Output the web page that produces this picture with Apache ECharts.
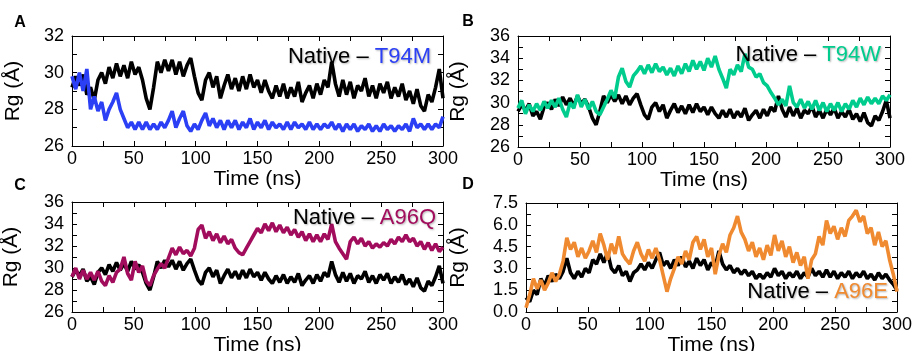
<!DOCTYPE html>
<html>
<head>
<meta charset="utf-8">
<script src="https://cdn.jsdelivr.net/npm/echarts@6/dist/echarts.min.js"></script>
<style>
html, body { margin: 0; padding: 0; background: #fff; }
#chart { width: 915px; height: 351px; }
</style>
</head>
<body>
<div id="chart"></div>
<script>
// one sample every 3 ns, 0..300 ns
var stepNs = 3;

// native protein, Rg (Å) - same trajectory drawn in panels A, B, C
var nativeRg = [29.2, 29.8, 29.3, 29.9, 28.8, 29.2, 28.5, 29.6, 30.0, 29.4,
    30.3, 29.7, 30.5, 29.8, 30.4, 29.7, 30.6, 29.9, 30.3, 29.6,
    28.6, 28.0, 29.2, 30.6, 30.0, 30.7, 30.1, 30.7, 29.9, 30.6,
    29.8, 30.4, 30.8, 29.8, 28.9, 28.5, 29.6, 30.0, 29.2, 29.8,
    28.6, 29.3, 29.9, 29.1, 29.7, 29.0, 29.8, 29.1, 29.9, 29.2,
    29.6, 28.9, 29.6, 29.0, 28.6, 29.3, 28.7, 29.4, 28.6, 29.2,
    28.7, 29.5, 28.4, 28.9, 29.3, 28.6, 29.4, 28.8, 29.6, 29.2,
    30.6, 29.4, 28.7, 29.6, 28.8, 29.5, 28.6, 29.3, 29.0, 29.7,
    28.7, 29.3, 28.6, 29.4, 28.9, 29.5, 28.6, 29.2, 28.7, 29.4,
    28.5, 29.0, 28.3, 29.1, 28.2, 27.9, 28.8, 28.4, 29.2, 30.2, 28.6];

var t94mRg = [29.8, 29.1, 30.0, 29.0, 30.2, 28.0, 28.7, 27.9, 28.4, 27.4,
    28.0, 28.4, 28.9, 28.0, 27.5, 27.0, 27.3, 26.9, 27.3, 26.9,
    27.3, 26.9, 27.2, 26.9, 27.3, 27.0, 27.4, 27.9, 27.0, 27.5,
    27.9, 27.1, 26.8, 27.2, 26.9, 27.4, 27.8, 27.1, 27.5, 27.0,
    27.4, 26.9, 27.4, 27.0, 27.4, 26.9, 27.3, 27.0, 27.5, 26.9,
    27.3, 27.0, 27.4, 26.9, 27.3, 27.0, 27.2, 26.9, 27.3, 26.9,
    27.3, 27.0, 27.2, 26.9, 27.3, 26.9, 27.2, 26.9, 27.2, 27.0,
    27.3, 26.9, 27.2, 26.8, 27.2, 26.9, 27.2, 26.8, 27.1, 26.9,
    27.2, 26.8, 27.1, 26.8, 27.2, 26.9, 27.1, 26.8, 27.1, 26.9,
    27.2, 26.8, 27.5, 27.0, 27.2, 26.9, 27.2, 26.9, 27.2, 27.0, 27.6];

var t94wRg = [29.5, 30.2, 29.0, 29.8, 29.2, 29.9, 29.3, 30.1, 29.5, 30.2,
    29.6, 30.4, 29.4, 28.7, 30.0, 29.5, 30.7, 29.6, 30.3, 29.4,
    30.1, 29.2, 28.9, 29.6, 30.3, 31.1, 30.4, 32.3, 33.1, 31.9,
    31.4, 32.4, 32.8, 33.3, 32.6, 33.4, 32.7, 33.5, 32.8, 33.2,
    32.5, 33.1, 32.4, 33.3, 32.6, 33.5, 32.8, 33.8, 33.0, 33.7,
    32.9, 34.0, 33.2, 34.2, 33.0, 32.2, 31.3, 33.0, 32.5, 33.4,
    32.8, 34.4, 33.2, 33.0, 32.3, 32.6, 31.8, 31.5, 30.9, 30.4,
    29.8, 30.3, 29.7, 31.5, 30.0, 29.6, 30.3, 29.5, 30.1, 29.4,
    30.2, 29.3, 30.0, 29.2, 29.9, 29.3, 30.0, 29.2, 29.9, 29.4,
    30.2, 29.6, 30.4, 29.8, 30.5, 29.9, 30.4, 29.9, 30.6, 30.2, 30.7];

var a96qRg = [29.2, 30.0, 29.0, 29.8, 29.0, 29.6, 28.9, 29.7, 28.8, 28.4,
    29.3, 28.7, 29.6, 29.9, 31.0, 29.5, 28.9, 30.6, 29.6, 30.2,
    28.8, 28.4, 29.3, 29.9, 30.4, 30.0, 30.9, 31.8, 31.2, 31.9,
    31.3, 31.6, 31.1, 31.8, 33.5, 33.9, 32.7, 33.3, 32.5, 33.1,
    32.3, 32.9, 32.2, 32.6, 31.8, 31.4, 31.2, 31.8, 32.4, 33.0,
    33.6, 33.2, 34.0, 33.4, 34.1, 33.3, 33.9, 33.2, 33.7, 33.0,
    33.5, 32.8, 33.3, 32.5, 33.1, 32.4, 33.0, 32.4, 33.1, 32.6,
    34.0, 32.4, 31.8, 31.3, 30.8, 32.4, 32.8, 32.2, 32.7, 32.0,
    32.4, 31.8, 32.2, 31.9, 32.3, 32.0, 32.6, 32.2, 32.8, 32.4,
    33.0, 32.4, 32.7, 32.0, 32.4, 31.7, 32.3, 31.6, 32.2, 31.5, 31.9];

// panel D
var nativeD = [1.0, 0.7, 1.5, 1.2, 2.3, 1.8, 2.5, 2.1, 2.6, 2.3,
    2.8, 3.7, 2.7, 2.3, 2.8, 2.4, 3.0, 2.7, 3.6, 3.3,
    4.0, 3.4, 4.1, 3.0, 2.7, 3.2, 2.5, 2.8, 2.1, 2.7,
    2.9, 3.3, 2.9, 3.4, 3.0, 3.6, 4.1, 3.2, 3.5, 3.0,
    3.6, 3.2, 3.8, 3.1, 3.5, 3.0, 3.7, 3.2, 3.6, 2.9,
    3.4, 3.1, 4.2, 3.3, 2.9, 3.2, 2.7, 3.0, 2.6, 2.9,
    2.5, 2.8, 2.3, 2.6, 2.3, 2.7, 2.4, 3.0, 2.5, 2.8,
    2.3, 2.7, 2.4, 2.8, 2.3, 2.7, 2.4, 3.0, 2.5, 2.8,
    2.4, 2.9, 2.4, 2.8, 2.3, 2.7, 2.4, 2.8, 2.3, 2.7,
    2.4, 2.8, 2.3, 2.6, 2.2, 2.7, 2.3, 2.6, 2.2, 1.9, 1.5];

var a96eD = [0.3, 1.2, 2.3, 1.6, 2.2, 1.5, 2.0, 2.7, 2.1, 2.6,
    3.5, 5.1, 4.3, 4.8, 3.8, 4.4, 3.7, 4.2, 4.9, 4.1,
    5.4, 4.6, 3.6, 4.7, 4.0, 5.2, 4.0, 3.6, 3.3, 4.2,
    4.8, 4.0, 3.5, 4.3, 3.7, 4.4, 3.6, 2.5, 1.4, 2.3,
    3.0, 3.8, 3.3, 4.2, 3.6, 4.8, 5.2, 4.3, 5.0, 3.8,
    4.4, 2.6, 3.9, 4.7, 4.1, 5.3, 5.8, 6.6, 5.5, 5.0,
    4.2, 4.8, 3.8, 4.4, 3.6, 4.6, 3.9, 5.3, 4.2, 4.9,
    3.8, 4.5, 3.4, 4.1, 3.2, 3.8, 2.3, 3.6, 4.0, 5.2,
    4.6, 6.3, 5.4, 5.9, 5.0, 5.8, 5.2, 6.3, 6.6, 7.0,
    6.2, 6.6, 5.4, 5.8, 4.6, 5.5, 4.5, 4.9, 3.6, 2.6, 1.4];

var xTicks = [0, 300, 50];   // min, max, interval
var mutantNames = ['T94M', 'T94W', 'A96Q', 'A96E'];
var mutantColors = ['#2b3ff5', '#00cc8e', '#a20c5c', '#f08a30'];

var time = [];
for (var i = 0; i < nativeRg.length; i++) time.push(i * stepNs);

function pairs(values) {
    return values.map(function (v, i) { return [time[i], v]; });
}

var FONT = 'Liberation Sans, Arial, sans-serif';

var panels = [
    { letter: 'A', grid: { left: 72, top: 36, width: 371, height: 110 }, yMin: 26, yMax: 32, yStep: 2,
      base: nativeRg, mut: t94mRg, yGap: 48, xGap: 23, legend: [431, 57], letterPos: [20, 23] },
    { letter: 'B', grid: { left: 518, top: 36, width: 372, height: 111 }, yMin: 26, yMax: 36, yStep: 2,
      base: nativeRg, mut: t94wRg, yGap: 49, xGap: 23, legend: [881, 55], letterPos: [468, 22] },
    { letter: 'C', grid: { left: 72, top: 202, width: 371, height: 110 }, yMin: 26, yMax: 36, yStep: 2,
      base: nativeRg, mut: a96qRg, yGap: 50, xGap: 19, legend: [436, 218], letterPos: [20, 186] },
    { letter: 'D', grid: { left: 526, top: 203, width: 371, height: 109 }, yMin: 0, yMax: 7.5, yStep: 1.5,
      base: nativeD, mut: a96eD, yGap: 57, xGap: 19, legend: [888, 292], letterPos: [468, 185] }
];

function axisCommon(showLabel, min, max, interval) {
    return {
        type: 'value',
        min: min,
        max: max,
        interval: interval,
        axisLine: { show: true, onZero: false, lineStyle: { color: '#000', width: 1 } },
        axisTick: { show: true, inside: true, length: 5, lineStyle: { color: '#000' } },
        minorTick: { show: true, splitNumber: 2, length: 5, lineStyle: { color: '#000' } },
        splitLine: { show: false },
        axisLabel: { show: showLabel, color: '#000', fontSize: 18, fontFamily: FONT },
        nameTextStyle: { color: '#000', fontSize: 21, fontFamily: FONT }
    };
}

var grids = [], xAxes = [], yAxes = [], series = [], graphics = [];

panels.forEach(function (p, k) {
    grids.push(Object.assign({ outerBoundsMode: 'none', containLabel: false }, p.grid));

    var xb = axisCommon(true, xTicks[0], xTicks[1], xTicks[2]);
    xb.gridIndex = k; xb.position = 'bottom';
    xb.axisLabel.margin = 4;
    xb.name = 'Time (ns)'; xb.nameLocation = 'middle'; xb.nameGap = p.xGap;
    var xt = axisCommon(false, xTicks[0], xTicks[1], xTicks[2]);
    xt.gridIndex = k; xt.position = 'top';
    xAxes.push(xb, xt);

    var yl = axisCommon(true, p.yMin, p.yMax, p.yStep);
    yl.gridIndex = k; yl.position = 'left';
    yl.axisLabel.margin = 8;
    yl.axisLabel.formatter = p.yStep < 2 ? function (v) { return v.toFixed(1); } : '{value}';
    yl.name = 'Rg (Å)'; yl.nameLocation = 'middle'; yl.nameGap = p.yGap;
    var yr = axisCommon(false, p.yMin, p.yMax, p.yStep);
    yr.gridIndex = k; yr.position = 'right';
    yAxes.push(yl, yr);

    series.push({
        name: 'Native', type: 'line', xAxisIndex: 2 * k, yAxisIndex: 2 * k,
        data: pairs(p.base), symbol: 'none', lineStyle: { color: '#000', width: 3.6, join: 'bevel' }
    });
    series.push({
        name: mutantNames[k], type: 'line', xAxisIndex: 2 * k, yAxisIndex: 2 * k,
        data: pairs(p.mut), symbol: 'none', lineStyle: { color: mutantColors[k], width: 3.6, join: 'bevel' }
    });

    var shadow = { textShadowColor: 'rgba(0,0,0,0.3)', textShadowBlur: 2, textShadowOffsetX: 1, textShadowOffsetY: 1 };
    graphics.push({
        type: 'text', x: p.legend[0], y: p.legend[1], z: 100,
        style: {
            text: '{n|Native – }{m|' + mutantNames[k] + '}',
            align: 'right', verticalAlign: 'middle',
            rich: {
                n: Object.assign({ fill: '#000', fontSize: 22, fontFamily: FONT }, shadow),
                m: Object.assign({ fill: mutantColors[k], fontSize: 22, fontFamily: FONT }, shadow)
            }
        }
    });
    graphics.push({
        type: 'text', x: p.letterPos[0], y: p.letterPos[1],
        style: { text: p.letter, fill: '#000', fontSize: 16, fontWeight: 'bold', fontFamily: FONT,
                 align: 'center', verticalAlign: 'middle' }
    });
});

var myChart = echarts.init(document.getElementById('chart'));
var option = {
    animation: false,
    backgroundColor: '#fff',
    grid: grids,
    xAxis: xAxes,
    yAxis: yAxes,
    series: series,
    graphic: graphics
};
option && myChart.setOption(option);
</script>
</body>
</html>
